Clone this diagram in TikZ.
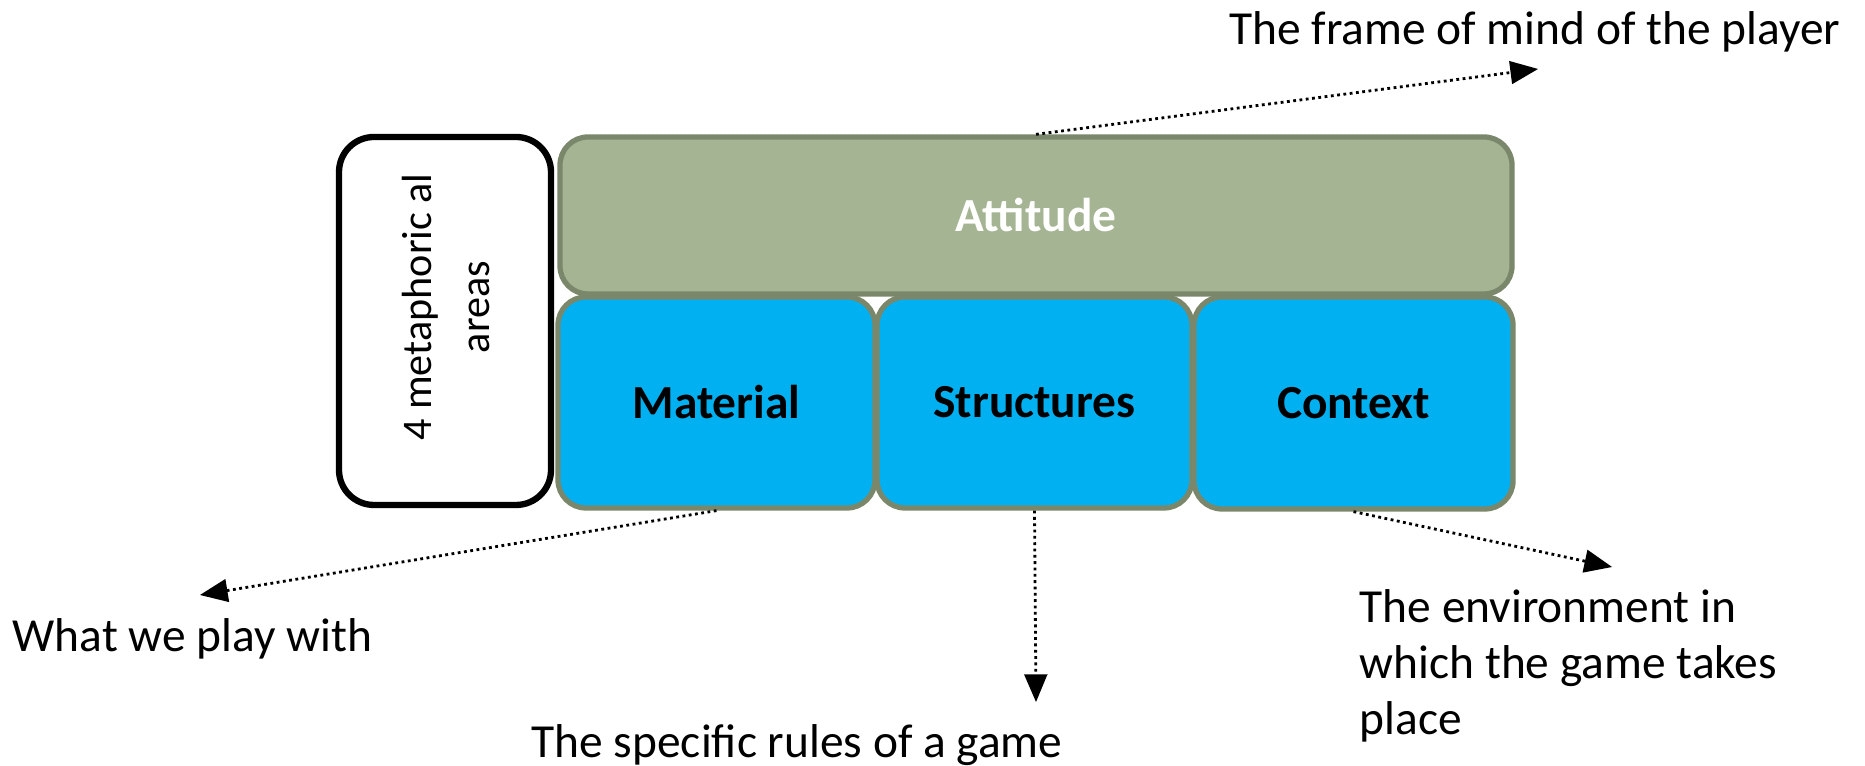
\documentclass[tikz,border=0pt]{standalone}
\usepackage{fontspec}
\setmainfont{Carlito}
\usepackage{tikz}
\usetikzlibrary{shapes}
\usetikzlibrary{arrows}
\definecolor{areablue}{HTML}{00B0F0}
\definecolor{moodgreen}{HTML}{A5B492}
\definecolor{arealine}{HTML}{7A876B}
\tikzstyle{area} = [rectangle,rounded corners=0.28cm,draw=arealine,line width=1.5pt,
inner sep=0pt, font=\bfseries\fontsize{13.5}{16}\selectfont]
\tikzstyle{base} = [area,fill=areablue,minimum width=3.17cm,minimum height=2.11cm]
\tikzstyle{mood} = [area,fill=moodgreen,text=white,minimum width=9.52cm,minimum height=1.57cm]
\tikzstyle{legend} = [rectangle,rounded corners=0.35cm,draw=black,fill=white,line width=1.8pt,
minimum width=2.12cm,minimum height=3.68cm]
\tikzstyle{note} = [inner sep=0pt, font=\fontsize{13.5}{16}\selectfont]
\tikzstyle{pointer} = [->,>={triangle 45},densely dotted,line width=0.8pt]
\newcommand{\hint}[2]{ %
  % dotted pointer from a box #1 to a free end #2
  \path (#1) edge [pointer] (#2) ;%
}

\begin{document}
\begin{tikzpicture}
  \useasboundingbox (0,0) rectangle (18.65,7.66);
  \node[legend](key) at (4.45,4.45) {};
  \node[rotate=90,align=center,inner sep=0pt,
    font=\fontsize{12}{16.5}\selectfont] at (4.46,4.59) {4 metaphoric al\\areas};
  \node[mood](attitude) at (10.36,5.505) {Attitude};
  \node[base](material) at (7.165,3.635) {Material};
  \node[base,minimum width=3.15cm](structures) at (10.345,3.635) {Structures};
  \node[base,minimum width=3.19cm,minimum height=2.12cm](context) at (13.535,3.63) {Context};
  \node[note,anchor=base east](mind) at (18.41,7.21) {The frame of mind of the player};
  \node[note,anchor=base west](play) at (0.12,1.14) {What we play with};
  \node[note,anchor=base](rules) at (7.97,0.08) {The specific rules of a game};
  \node[note,anchor=base west,align=left](place) at (13.59,0.31)
    {The environment in\\which the game takes\\place};
  \coordinate (tmind) at (15.38,6.97);
  \coordinate (tplay) at (2.00,1.71);
  \coordinate (trules) at (10.36,0.64);
  \coordinate (tplace) at (16.12,1.99);
  \hint{attitude.north}{tmind};
  \hint{material.south}{tplay};
  \hint{structures.south}{trules};
  \hint{context.south}{tplace};
\end{tikzpicture}
\end{document}
